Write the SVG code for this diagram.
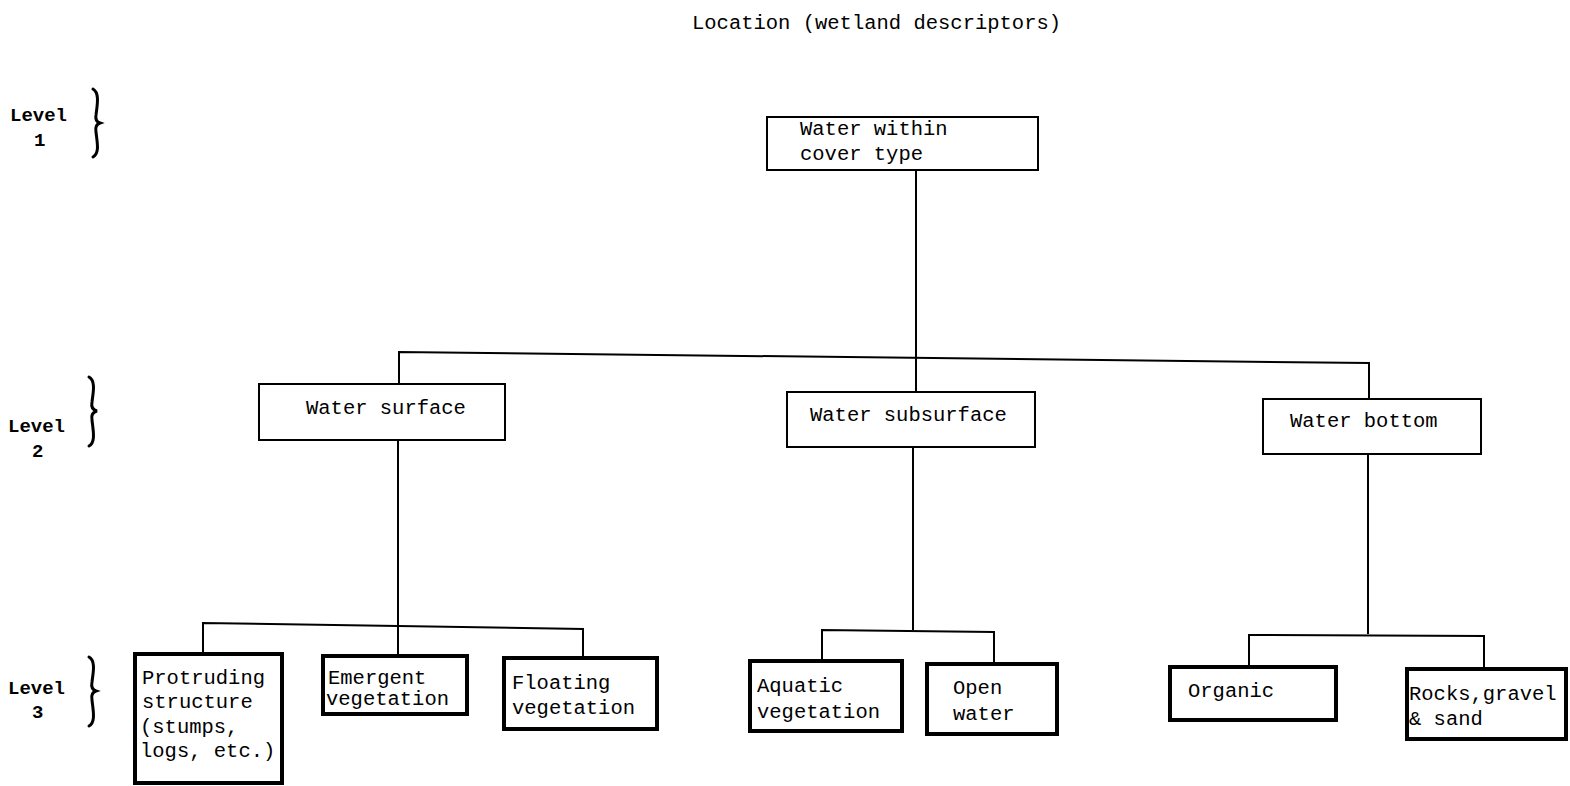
<svg xmlns="http://www.w3.org/2000/svg" width="1570" height="786" viewBox="0 0 1570 786">
<style>
text{font-family:"Liberation Mono","DejaVu Sans Mono",monospace;font-size:20.5px;fill:#000}
.lvl{font-weight:bold;font-size:19px}
.thin{fill:#fff;stroke:#000;stroke-width:2}
.thick{fill:#fff;stroke:#000;stroke-width:4}
.ln{fill:none;stroke:#000;stroke-width:2}
.br{fill:none;stroke:#000;stroke-width:3;stroke-linecap:round}
</style>
<rect width="1570" height="786" fill="#fff"/>
<text x="692" y="29">Location (wetland descriptors)</text>
<g id="levels">
<text class="lvl" x="10" y="121">Level</text><text class="lvl" x="34" y="146">1</text>
<path class="br" d="M93 89 C100 93,97 106,96 115 C95 120,97 122,100 123 C97 124,95 127,96 132 C97 142,100 153,93 157"/>
<text class="lvl" x="8" y="432">Level</text><text class="lvl" x="32" y="457">2</text>
<path class="br" d="M89 377 C96 381,93 393,92 402 C91 407,93 410,97 411 C93 412,91 415,92 420 C93 430,96 442,89 446"/>
<text class="lvl" x="8" y="694">Level</text><text class="lvl" x="32" y="718">3</text>
<path class="br" d="M89 657 C96 661,93 673,92 682 C91 687,93 690,96 691 C93 692,91 695,92 700 C93 710,96 722,89 726"/>
</g>
<g id="connectors">
<path class="ln" d="M916 170 V392"/>
<path class="ln" d="M399 384 V352 L1369 363 V399"/>
<path class="ln" d="M398 440 V656"/>
<path class="ln" d="M203 653 V623 L583 629 V657"/>
<path class="ln" d="M913 447 V630"/>
<path class="ln" d="M822 660 V630 L994 632 V663"/>
<path class="ln" d="M1368 454 V634"/>
<path class="ln" d="M1249 666 V635 L1484 636 V668"/>
</g>
<g id="n-root"><rect class="thin" x="767" y="117" width="271" height="53"/><text x="800" y="135">Water within</text><text x="800" y="160">cover type</text></g>
<g id="n-surface"><rect class="thin" x="259" y="384" width="246" height="56"/><text x="306" y="414">Water surface</text></g>
<g id="n-subsurface"><rect class="thin" x="787" y="392" width="248" height="55"/><text x="810" y="421">Water subsurface</text></g>
<g id="n-bottom"><rect class="thin" x="1263" y="399" width="218" height="55"/><text x="1290" y="427">Water bottom</text></g>
<g id="n-protruding"><rect class="thick" x="135" y="654" width="147" height="129"/><text x="142" y="684">Protruding</text><text x="142" y="708">structure</text><text x="140" y="733">(stumps,</text><text x="140" y="757">logs, etc.)</text></g>
<g id="n-emergent"><rect class="thick" x="323" y="656" width="144" height="58"/><text x="328" y="684">Emergent</text><text x="326" y="705">vegetation</text></g>
<g id="n-floating"><rect class="thick" x="504" y="658" width="153" height="71"/><text x="512" y="689">Floating</text><text x="512" y="714">vegetation</text></g>
<g id="n-aquatic"><rect class="thick" x="750" y="661" width="152" height="70"/><text x="757" y="692">Aquatic</text><text x="757" y="718">vegetation</text></g>
<g id="n-open"><rect class="thick" x="927" y="664" width="130" height="70"/><text x="953" y="694">Open</text><text x="953" y="720">water</text></g>
<g id="n-organic"><rect class="thick" x="1170" y="667" width="166" height="53"/><text x="1188" y="697">Organic</text></g>
<g id="n-rocks"><rect class="thick" x="1407" y="669" width="159" height="70"/><text x="1409" y="700">Rocks,gravel</text><text x="1409" y="725">&amp; sand</text></g>
</svg>
